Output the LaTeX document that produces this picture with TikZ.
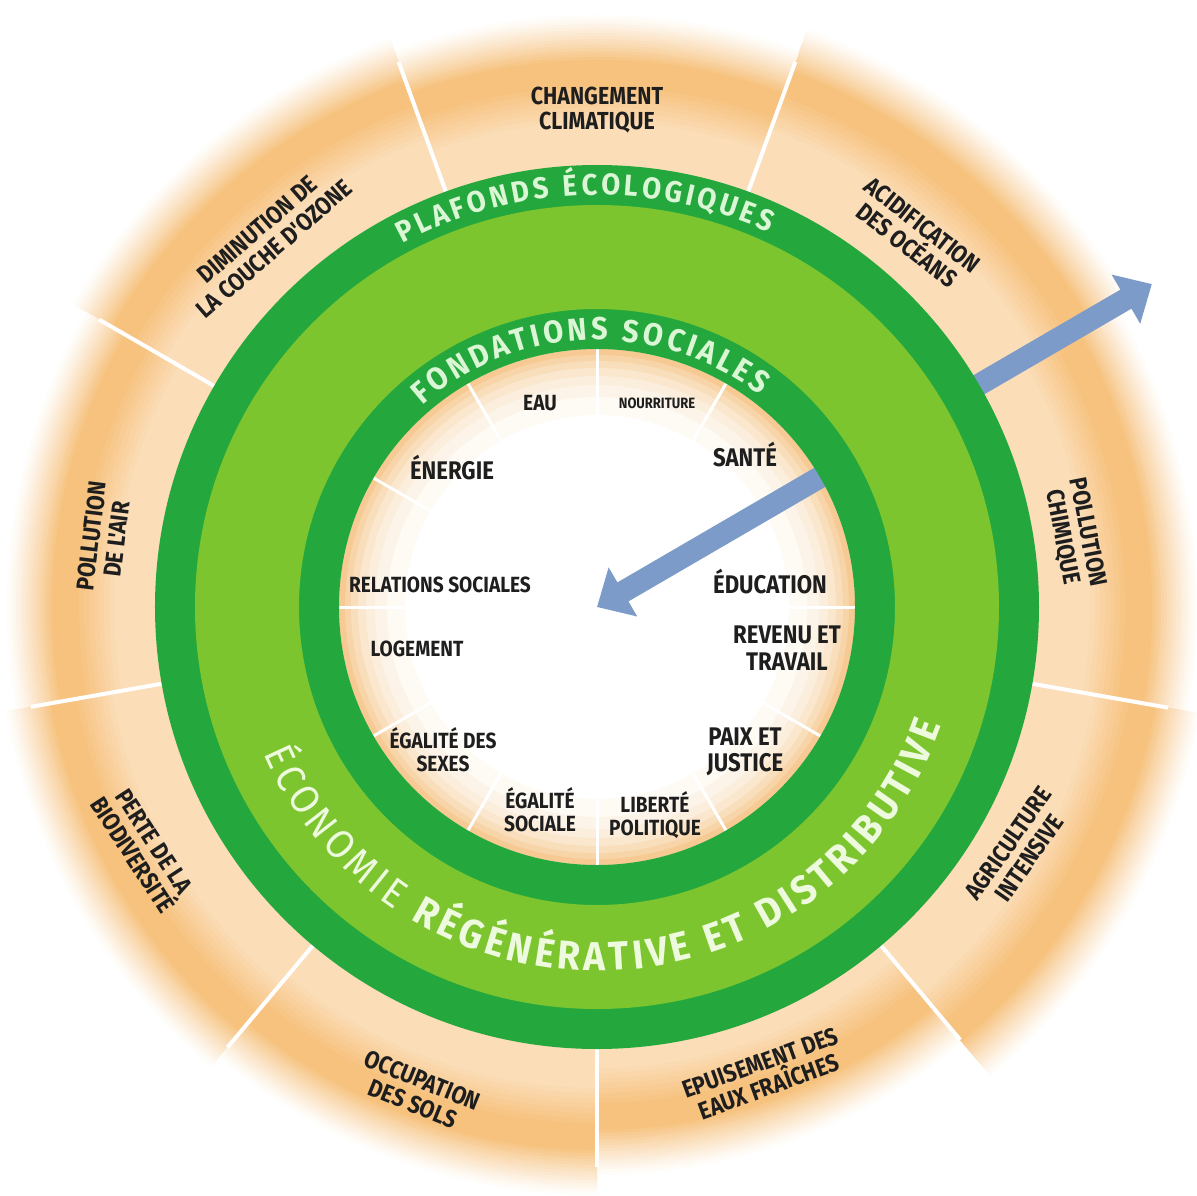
\documentclass[tikz,border=0pt]{standalone}
\usepackage{fontspec}
\usetikzlibrary{arrows.meta,decorations.text}

\newfontfamily\labfamily[FakeStretch=0.87]{Fira Sans}
\newfontfamily\arcfamily[FakeStretch=0.92]{Fira Sans}
\newcommand{\labfont}{\labfamily\bfseries\fontsize{12.5}{13}\selectfont}
\newcommand{\biglabfont}{\labfamily\bfseries\fontsize{14.5}{15}\selectfont}
\newcommand{\smallfont}{\labfamily\bfseries\fontsize{8.5}{9}\selectfont}
\newcommand{\outfont}{\labfamily\bfseries\fontsize{14}{14.5}\selectfont}
% a kern in front of every letter spreads the arc texts
\newcommand{\plafont}{\arcfamily\bfseries\fontsize{17}{18}\selectfont\kern2pt}
\newcommand{\fondfont}{\arcfamily\bfseries\fontsize{18}{19}\selectfont\kern2pt}
\newcommand{\ecofont}{\arcfamily\mdseries\fontsize{23}{24}\selectfont\kern2.4pt}
\newcommand{\ecobfont}{\arcfamily\bfseries\fontsize{23}{24}\selectfont\kern2.4pt}

\definecolor{peachlight}{RGB}{251,221,184}
\definecolor{peachdeep}{RGB}{246,194,126}
\definecolor{innerpeach}{RGB}{246,202,146}
\definecolor{darkgreen}{RGB}{36,168,62}
\definecolor{lightgreen}{RGB}{125,197,46}
\definecolor{arctext}{RGB}{218,246,212}
\definecolor{ecotext}{RGB}{238,250,222}
\definecolor{labtext}{RGB}{30,30,30}
\definecolor{arrowblue}{RGB}{124,155,201}

\begin{document}
\begin{tikzpicture}[x=0.2mm, y=0.2mm,
  lbl/.style={font=\labfont, text=labtext, align=center, inner sep=0pt},
  biglbl/.style={lbl, font=\biglabfont},
  outlbl/.style={font=\outfont, text=labtext, align=center, inner sep=0pt},
  spoke/.style={draw=white, line width=0.6mm},
  divider/.style={draw=white, line width=0.8mm},
  arrowline/.style={draw=arrowblue, line width=4.4mm, >={Triangle[length=6mm,width=11mm]}, <->}]
\useasboundingbox (-597,-588) rectangle (600,607);
\fill[white] (-597,-588) rectangle (600,607);
\coordinate (ctr) at (0,0);
\coordinate (tipout) at (30.2:642);

% ecological ceiling segments, faded to white at their rim
\foreach \a/\R in {10/600,50/615,90/592,130/605,170/590,210/600,250/588,290/568,330/612}{
  \foreach \k in {0,...,15}{
    \pgfmathsetmacro\rr{\R-3*\k}
    \pgfmathsetmacro\f{100*((\k+1)/16)^1.2}
    \fill[fill=peachdeep!\f!white] (ctr) -- (\a-20:\rr) arc[start angle=\a-20, end angle=\a+20, radius=\rr] -- cycle;
  }
  \foreach \k in {0,...,7}{
    \pgfmathsetmacro\rr{\R-72-5*\k}
    \pgfmathsetmacro\f{100-100*(\k+1)/8}
    \fill[fill=peachdeep!\f!peachlight] (ctr) -- (\a-20:\rr) arc[start angle=\a-20, end angle=\a+20, radius=\rr] -- cycle;
  }
}

% dividers
\draw[divider] (30:442) -- (30:580);
\draw[divider] (70:442) -- (70:580);
\draw[divider] (110:442) -- (110:580);
\draw[divider] (150:442) -- (150:575);
\draw[divider] (190:442) -- (190:575);
\draw[divider] (230:442) -- (230:575);
\draw[divider] (270:442) -- (270:560);
\draw[divider] (310:442) -- (310:565);
\draw[divider] (350:442) -- (350:580);

% social foundation disc
\foreach \c/\r in {innerpeach/258, innerpeach!80!white/252, innerpeach!62!white/246,
    innerpeach!46!white/239, innerpeach!32!white/231, innerpeach!20!white/222,
    innerpeach!10!white/210, white/192}{
  \fill[fill=\c] (ctr) circle (\r);
}
\draw[spoke] (ctr) -- (0:258);
\draw[spoke] (ctr) -- (30:258);
\draw[spoke] (ctr) -- (60:258);
\draw[spoke] (ctr) -- (90:258);
\draw[spoke] (ctr) -- (120:258);
\draw[spoke] (ctr) -- (150:258);
\draw[spoke] (ctr) -- (180:258);
\draw[spoke] (ctr) -- (210:258);
\draw[spoke] (ctr) -- (240:258);
\draw[spoke] (ctr) -- (270:258);
\draw[spoke] (ctr) -- (300:258);
\draw[spoke] (ctr) -- (330:258);

\draw[arrowline] (ctr) -- (tipout);

% the doughnut
\fill[darkgreen, even odd rule] (ctr) circle (442) (ctr) circle (258);
\fill[lightgreen, even odd rule] (ctr) circle (402) (ctr) circle (298);

\path[decorate, decoration={text along path, text align=center, text color=arctext,
  text={|\plafont|PLAFONDS ÉCOLOGIQUES}}] (142:412) arc[start angle=142, end angle=42, radius=412];
\path[decorate, decoration={text along path, text align=center, text color=arctext,
  text={|\fondfont|FONDATIONS SOCIALES}}] (152:267) arc[start angle=152, end angle=32, radius=267];
\path[decorate, decoration={text along path, text align=center, text color=ecotext,
  text={|\ecofont|ÉCONOMIE |\ecobfont|RÉGÉNÉRATIVE ET DISTRIBUTIVE}}] (192:364) arc[start angle=192, end angle=352, radius=364];

% inner labels
\node[lbl] (eau) at (-57,204) {EAU};
\node[lbl, font=\smallfont] (nourriture) at (60,204) {NOURRITURE};
\node[biglbl] (sante) at (148,152) {SANTÉ};
\node[biglbl] (education) at (173,25) {ÉDUCATION};
\node[biglbl] (revenu) at (190,-41) {REVENU ET\\TRAVAIL};
\node[biglbl] (paix) at (148,-145) {PAIX ET\\JUSTICE};
\node[lbl] (liberte) at (58,-208) {LIBERTÉ\\POLITIQUE};
\node[lbl] (egasoc) at (-57,-203) {ÉGALITÉ\\SOCIALE};
\node[lbl] (egasex) at (-154,-143) {ÉGALITÉ DES\\SEXES};
\node[lbl] (logement) at (-180,-42) {LOGEMENT};
\node[lbl] (relations) at (-157,22) {RELATIONS SOCIALES};
\node[biglbl] (energie) at (-145,139) {ÉNERGIE};

% outer labels
\node[outlbl] (climat) at (90:497) {CHANGEMENT\\CLIMATIQUE};
\node[outlbl, rotate=41] (ozone) at (132:495) {DIMINUTION DE\\LA COUCHE D'OZONE};
\node[outlbl, rotate=-38] (oceans) at (49.5:489) {ACIDIFICATION\\DES OCÉANS};
\node[outlbl, rotate=83] (air) at (172:498) {POLLUTION\\DE L'AIR};
\node[outlbl, rotate=-79] (chimique) at (8.6:483) {POLLUTION\\CHIMIQUE};
\node[outlbl, rotate=-57] (biodiv) at (208:514) {PERTE DE LA\\BIODIVERSITÉ};
\node[outlbl, rotate=55] (agri) at (330:487) {AGRICULTURE\\INTENSIVE};
\node[outlbl, rotate=-22] (sols) at (249.7:517) {OCCUPATION\\DES SOLS};
\node[outlbl, rotate=20] (eaux) at (289.7:497) {EPUISEMENT DES\\EAUX FRAÎCHES};
\end{tikzpicture}
\end{document}
